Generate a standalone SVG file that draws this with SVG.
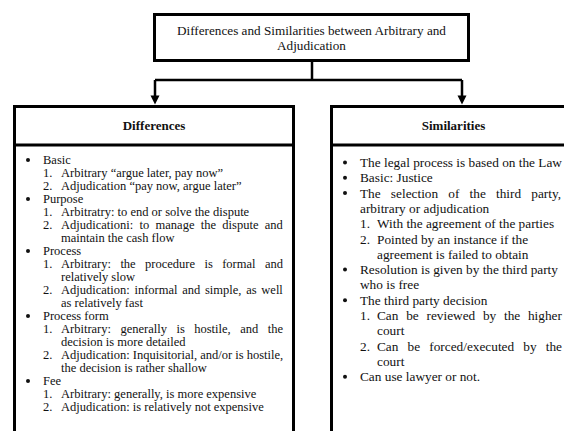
<svg xmlns="http://www.w3.org/2000/svg" width="564" height="431" viewBox="0 0 564 431">
<defs>
<style>
.box{fill:#fff;stroke:#000;stroke-width:3}
.div{stroke:#000;stroke-width:3;fill:none}
.con{stroke:#000;stroke-width:2.5;fill:none}
.arr{fill:#000}
text{font-family:"Liberation Serif","Times New Roman",serif;fill:#111}
.t{font-size:13.2px;text-anchor:middle}
.h{font-size:13px;font-weight:bold;text-anchor:middle}
.l{font-size:12.5px}
.r{font-size:13.3px}
.b{fill:#111}
</style>
</defs>
<rect width="564" height="431" fill="#fff"/>
<g id="connectors">
<path class="con" d="M312 62V80M155 80H462M155 80V96M462 80V96"/>
<path class="arr" d="M150.5 95.5H159.5L155 104.5Z"/>
<path class="arr" d="M457.5 95.5H466.5L462 104.5Z"/>
</g>
<g id="title">
<rect class="box" x="154.5" y="14.5" width="314" height="46"/>
<text class="t" x="311.5" y="35">Differences and Similarities between Arbitrary and</text>
<text class="t" x="311.5" y="49.5">Adjudication</text>
</g>
<g id="differences">
<rect class="box" x="14.5" y="106.5" width="279" height="340"/>
<line class="div" x1="13" y1="145" x2="295" y2="145"/>
<text class="h" x="154" y="129.5">Differences</text>
<g class="b">
<circle cx="28" cy="160" r="2"/>
<circle cx="28" cy="199" r="2"/>
<circle cx="28" cy="251" r="2"/>
<circle cx="28" cy="316" r="2"/>
<circle cx="28" cy="381" r="2"/>
</g>
<g class="l">
<text x="43" y="164">Basic</text>
<text x="43" y="177">1.</text><text x="61" y="177">Arbitrary “argue later, pay now”</text>
<text x="43" y="190">2.</text><text x="61" y="190">Adjudication “pay now, argue later”</text>
<text x="43" y="203">Purpose</text>
<text x="43" y="216">1.</text><text x="61" y="216">Arbitratry: to end or solve the dispute</text>
<text x="43" y="229">2.</text><text x="61" y="229" word-spacing="3.2">Adjudicationi: to manage the dispute and</text>
<text x="61" y="242">maintain the cash flow</text>
<text x="43" y="255">Process</text>
<text x="43" y="268">1.</text><text x="61" y="268" word-spacing="6.28">Arbitrary: the procedure is formal and</text>
<text x="61" y="281">relatively slow</text>
<text x="43" y="294">2.</text><text x="61" y="294" word-spacing="1.6">Adjudication: informal and simple, as well</text>
<text x="61" y="307">as relatively fast</text>
<text x="43" y="320">Process form</text>
<text x="43" y="333">1.</text><text x="61" y="333" word-spacing="6.35">Arbitrary: generally is hostile, and the</text>
<text x="61" y="346">decision is more detailed</text>
<text x="43" y="359">2.</text><text x="61" y="359">Adjudication: Inquisitorial, and/or is hostile,</text>
<text x="61" y="372">the decision is rather shallow</text>
<text x="43" y="385">Fee</text>
<text x="43" y="398">1.</text><text x="61" y="398">Arbitrary: generally, is more expensive</text>
<text x="43" y="411">2.</text><text x="61" y="411">Adjudication: is relatively not expensive</text>
</g>
</g>
<g id="similarities">
<rect class="box" x="331.5" y="106.5" width="260" height="340"/>
<line class="div" x1="330" y1="145" x2="580" y2="145"/>
<text class="h" x="453.5" y="129.5">Similarities</text>
<g class="b">
<circle cx="345" cy="162.5" r="2"/>
<circle cx="345" cy="177.8" r="2"/>
<circle cx="345" cy="193.1" r="2"/>
<circle cx="345" cy="269.6" r="2"/>
<circle cx="345" cy="300.2" r="2"/>
<circle cx="345" cy="376.7" r="2"/>
</g>
<g class="r">
<text x="360" y="167">The legal process is based on the Law</text>
<text x="360" y="182.3">Basic: Justice</text>
<text x="360" y="197.6" word-spacing="6.86">The selection of the third party,</text>
<text x="360" y="212.9">arbitrary or adjudication</text>
<text x="360" y="228.2">1.</text><text x="377" y="228.2">With the agreement of the parties</text>
<text x="360" y="243.5">2.</text><text x="377" y="243.5">Pointed by an instance if the</text>
<text x="377" y="258.8">agreement is failed to obtain</text>
<text x="360" y="274.1">Resolution is given by the third party</text>
<text x="360" y="289.4">who is free</text>
<text x="360" y="304.7">The third party decision</text>
<text x="360" y="320">1.</text><text x="377" y="320" word-spacing="4.42">Can be reviewed by the higher</text>
<text x="377" y="335.3">court</text>
<text x="360" y="350.6">2.</text><text x="377" y="350.6" word-spacing="5.81">Can be forced/executed by the</text>
<text x="377" y="365.9">court</text>
<text x="360" y="381.2">Can use lawyer or not.</text>
</g>
</g>
</svg>
